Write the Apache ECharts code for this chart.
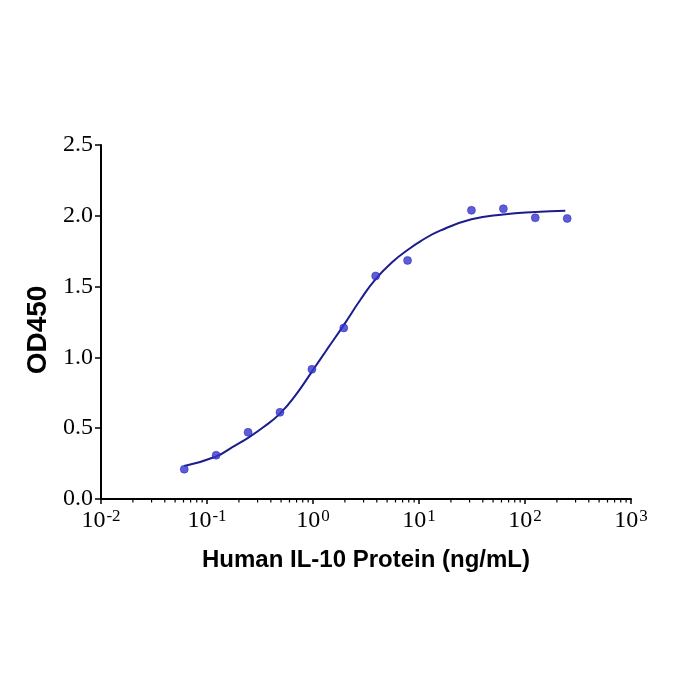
<!DOCTYPE html>
<html>
<head>
<meta charset="utf-8">
<script src="https://cdn.jsdelivr.net/npm/echarts@6/dist/echarts.min.js"></script>
<style>
  html, body { margin: 0; padding: 0; background: #fff; }
  #chart { width: 700px; height: 700px; }
</style>
</head>
<body>
<div id="chart"></div>
<script>
// measured points (ng/mL, OD450)
const conc = [0.061, 0.122, 0.244, 0.488, 0.977, 1.95, 3.9, 7.8, 31.25, 62.5, 125, 250];
const od = [0.210, 0.309, 0.471, 0.612, 0.916, 1.208, 1.575, 1.685, 2.039, 2.050, 1.986, 1.981];

// fitted curve
const fitX = [0.061, 0.122, 0.172, 0.244, 0.342, 0.488, 0.68, 0.977, 1.36, 1.95, 2.79, 3.9, 5.75, 7.8, 10.3, 15.8, 31.25, 62.5, 125, 240];
const fitY = [0.233, 0.300, 0.365, 0.432, 0.508, 0.603, 0.730, 0.900, 1.058, 1.228, 1.405, 1.553, 1.680, 1.758, 1.820, 1.895, 1.975, 2.010, 2.027, 2.035];

// minor ticks on the log axis
const minorTicks = [
  0.02, 0.03, 0.04, 0.05, 0.06, 0.07, 0.08, 0.09,
  0.2, 0.3, 0.4, 0.5, 0.6, 0.7, 0.8, 0.9,
  2, 3, 4, 5, 6, 7, 8, 9,
  20, 30, 40, 50, 60, 70, 80, 90,
  200, 300, 400, 500, 600, 700, 800, 900
];

const serif = '"Liberation Serif", "DejaVu Serif", serif';
const sans = '"Liberation Sans", Arial, sans-serif';

const chart = echarts.init(document.getElementById('chart'));

chart.setOption({
  backgroundColor: '#fff',
  animation: false,
  grid: { left: 101, right: 69, top: 145, bottom: 201 },
  xAxis: {
    type: 'log',
    logBase: 10,
    min: 0.01,
    max: 1000,
    name: 'Human IL-10 Protein (ng/mL)',
    nameLocation: 'middle',
    nameGap: 49,
    nameTextStyle: { fontFamily: sans, fontWeight: 'bold', fontSize: 24, color: '#000' },
    axisLine: { lineStyle: { color: '#000', width: 2 } },
    axisTick: { length: 5, lineStyle: { color: '#000', width: 1.5 } },
    splitLine: { show: false },
    axisLabel: {
      margin: 9,
      formatter: (v) => '{b|10}{s|' + Math.round(Math.log10(v)) + '}',
      rich: {
        b: { fontFamily: serif, fontSize: 24, color: '#000', verticalAlign: 'bottom' },
        s: { fontFamily: serif, fontSize: 17, color: '#000', verticalAlign: 'bottom', padding: [0, 0, 8, 1] }
      }
    }
  },
  yAxis: {
    type: 'value',
    min: 0,
    max: 2.5,
    interval: 0.5,
    name: 'OD450',
    nameLocation: 'middle',
    nameGap: 44,
    nameTextStyle: { fontFamily: sans, fontWeight: 'bold', fontSize: 28, color: '#000', padding: [0, 16, 0, 0] },
    axisLine: { show: true, lineStyle: { color: '#000', width: 2 } },
    axisTick: { show: true, length: 6, lineStyle: { color: '#000', width: 1.5 } },
    splitLine: { show: false },
    axisLabel: {
      margin: 8,
      fontFamily: serif,
      fontSize: 24,
      color: '#000',
      formatter: (v) => v.toFixed(1)
    }
  },
  series: [
    {
      type: 'custom',
      silent: true,
      clip: false,
      z: 5,
      data: minorTicks.map((v) => [v, 0]),
      renderItem: (params, api) => {
        const p = api.coord([api.value(0), 0]);
        return {
          type: 'line',
          shape: { x1: p[0], y1: p[1], x2: p[0], y2: p[1] + 3.5 },
          style: { stroke: '#000', lineWidth: 1.2 }
        };
      }
    },
    {
      type: 'line',
      smooth: 0.5,
      symbol: 'none',
      lineStyle: { color: '#1c1c8e', width: 2 },
      data: fitX.map((x, i) => [x, fitY[i]]),
      z: 3
    },
    {
      type: 'scatter',
      symbol: 'circle',
      symbolSize: 8,
      itemStyle: { color: '#3434d2', borderColor: '#2222a8', borderWidth: 0.6 },
      data: conc.map((x, i) => [x, od[i]]),
      z: 4
    }
  ]
});
</script>
</body>
</html>
